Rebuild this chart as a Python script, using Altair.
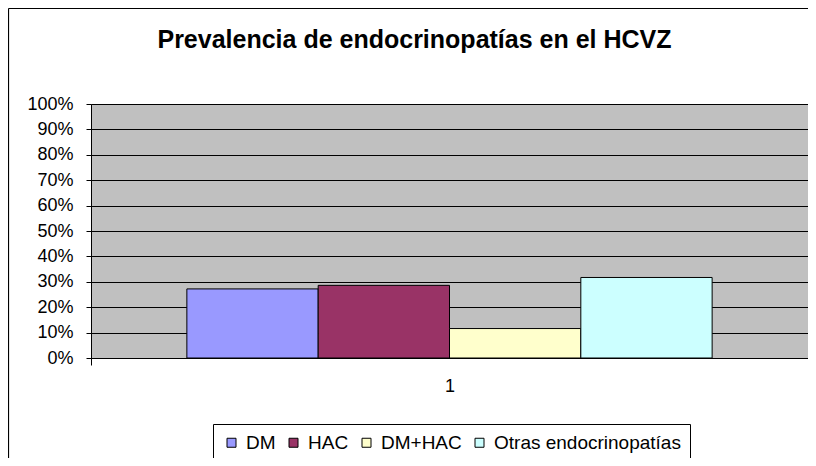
import altair as alt
import pandas as pd

series = ["DM", "HAC", "DM+HAC", "Otras endocrinopatías"]
values = [0.272, 0.286, 0.116, 0.317]
colors = ["#9999FF", "#993366", "#FFFFCC", "#CCFFFF"]
categories = ["1"]
y_ticks = [i / 10 for i in range(11)]

df = pd.DataFrame({"serie": series, "valor": values})
cat_df = pd.DataFrame({"cat": categories})

W, H = 717, 254
FONT = "Liberation Sans"

bars = alt.Chart(df).mark_bar(stroke="black", strokeWidth=1).encode(
    x=alt.X("serie:N", sort=series, axis=None,
            scale=alt.Scale(paddingInner=0, paddingOuter=0.73)),
    y=alt.Y("valor:Q", scale=alt.Scale(domain=[0, 1], nice=False),
            axis=alt.Axis(values=y_ticks, format=".0%", title=None,
                          grid=True, gridColor="black", gridWidth=1,
                          domainColor="black", tickColor="black", tickSize=5,
                          labelFontSize=18, labelFont=FONT, labelColor="black",
                          labelPadding=13)),
    color=alt.Color("serie:N", sort=series,
                    scale=alt.Scale(domain=series, range=colors),
                    legend=alt.Legend(title=None, orient="none", legendX=122, legendY=320,
                                      direction="horizontal", columns=4,
                                      strokeColor="black", padding=9,
                                      symbolType="square", symbolSize=81,
                                      symbolStrokeColor="black", symbolStrokeWidth=1,
                                      symbolOpacity=1,
                                      labelFontSize=19, labelFont=FONT, labelColor="black",
                                      labelOffset=5, columnPadding=8, labelLimit=400)),
)

cat_axis = alt.Chart(cat_df).mark_point(opacity=0).encode(
    x=alt.X("cat:N", title=None,
            axis=alt.Axis(labelAngle=0, tickBand="extent", tickSize=7,
                          tickColor="black", domainColor="black",
                          labelFontSize=18, labelFont=FONT, labelColor="black",
                          labelPadding=12)),
)

frame = pd.DataFrame({"b": [0]})
border_left = alt.Chart(frame).mark_rule(color="black", strokeWidth=1.2).encode(
    x=alt.value(-82.5), y=alt.value(-95.5), y2=alt.value(H + 100)
)
border_top = alt.Chart(frame).mark_rule(color="black", strokeWidth=1.2).encode(
    x=alt.value(-82.5), x2=alt.value(W), y=alt.value(-95.5)
)

chart = alt.layer(bars, cat_axis, border_left, border_top).resolve_scale(x="independent").properties(
    width=W, height=H,
    title=alt.TitleParams("Prevalencia de endocrinopatías en el HCVZ",
                          font=FONT, fontSize=25, fontWeight="bold", color="black",
                          anchor="middle", dx=-35, offset=-65.5, baseline="alphabetic"),
    autosize=alt.AutoSizeParams(type="none"),
    padding={"left": 83, "top": 96, "right": 0, "bottom": 100},
    background="white",
).configure_view(fill="#C0C0C0", stroke="#808080", strokeWidth=1)

chart.save("out.html", embed_options={"renderer": "svg", "actions": False})
